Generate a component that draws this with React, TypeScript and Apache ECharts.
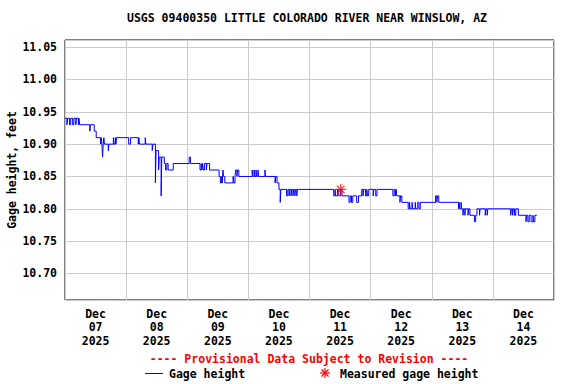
import React, { useEffect, useRef } from 'react';
import * as echarts from 'echarts';

const chartTitle = 'USGS 09400350 LITTLE COLORADO RIVER NEAR WINSLOW, AZ';
const yAxisTitle = 'Gage height, feet';
const provisionalNote = '---- Provisional Data Subject to Revision ----';
const seriesNames = ['Gage height', 'Measured gage height'];
const dayLabels = [
  'Dec\n07\n2025', 'Dec\n08\n2025', 'Dec\n09\n2025', 'Dec\n10\n2025',
  'Dec\n11\n2025', 'Dec\n12\n2025', 'Dec\n13\n2025', 'Dec\n14\n2025',
];
// hours since 2025-12-07 00:00 at which the gage height changes
const hours = [
  0, 0.75, 1, 1.75, 2.25, 3, 3.5, 4.25, 4.5, 5.25, 5.5, 5.75, 9.75, 10, 11.5, 12.25,
  14, 14.25, 14.5, 14.75, 15, 15.25, 15.5, 17, 17.25, 19, 19.25, 19.75, 20, 20.25,
  25, 25.75, 28.75, 29, 29.25, 31.5, 31.75, 34.25, 34.5, 35.5, 35.75, 36.75, 37,
  37.75, 38, 39, 39.5, 40, 40.5, 42.5, 48.75, 49.25, 53, 53.5, 53.75, 54, 54.25,
  54.75, 55.5, 55.75, 56.75, 60.5, 61, 61.5, 61.75, 62, 62.25, 62.75, 66, 66.25,
  66.75, 67, 67.5, 67.75, 68.25, 73.5, 73.75, 74.25, 74.5, 75, 75.25, 75.75, 76,
  78.5, 78.75, 82.5, 82.75, 83.25, 84, 84.5, 84.75, 87, 87.5, 88, 88.25, 88.75, 89,
  89.5, 89.75, 90.25, 90.5, 91, 91.25, 105.5, 106, 106.25, 107, 107.5, 108.25,
  108.75, 111.5, 112, 112.5, 113, 114.5, 115.25, 116.5, 117, 117.25, 118, 118.5,
  118.75, 119.25, 121, 121.25, 122, 122.5, 128.75, 129.25, 129.75, 130, 130.25,
  131.5, 131.75, 132.25, 134.75, 135.25, 135.5, 136.25, 136.5, 137.5, 137.75,
  138.5, 139, 139.5, 145.5, 146, 146.25, 146.75, 154.5, 154.75, 155, 155.5, 155.75,
  156.25, 156.5, 157, 157.25, 158.25, 158.5, 159, 160.75, 161.25, 161.75, 162.75,
  163, 165, 165.25, 165.75, 166, 175, 175.25, 175.75, 176, 176.5, 177, 178, 181,
  181.25, 181.75, 182.25, 183, 183.75, 184, 184.5, 185.25,
];
const heights = [
  10.94, 10.93, 10.94, 10.93, 10.94, 10.93, 10.94, 10.93, 10.94, 10.93, 10.94, 10.93, 10.92, 10.93, 10.92, 10.91,
  10.90, 10.91, 10.90, 10.88, 10.90, 10.91, 10.90, 10.89, 10.90, 10.91, 10.90, 10.91, 10.90, 10.91,
  10.90, 10.91, 10.90, 10.91, 10.90, 10.91, 10.90, 10.89, 10.90, 10.84, 10.89, 10.86, 10.88,
  10.82, 10.88, 10.87, 10.86, 10.87, 10.86, 10.87, 10.88, 10.87, 10.86, 10.87, 10.86, 10.87, 10.86,
  10.87, 10.86, 10.87, 10.86, 10.85, 10.84, 10.85, 10.84, 10.86, 10.85, 10.84, 10.85, 10.84,
  10.85, 10.86, 10.85, 10.86, 10.85, 10.86, 10.85, 10.86, 10.85, 10.86, 10.85, 10.86, 10.85,
  10.86, 10.85, 10.84, 10.85, 10.84, 10.83, 10.81, 10.83, 10.82, 10.83, 10.82, 10.83, 10.82, 10.83,
  10.82, 10.83, 10.82, 10.83, 10.82, 10.83, 10.82, 10.83, 10.82, 10.83, 10.82, 10.83,
  10.82, 10.81, 10.82, 10.81, 10.82, 10.81, 10.82, 10.83, 10.82, 10.83, 10.82, 10.83,
  10.82, 10.83, 10.82, 10.83, 10.82, 10.83, 10.82, 10.83, 10.82, 10.83, 10.82,
  10.81, 10.82, 10.81, 10.80, 10.81, 10.80, 10.81, 10.80, 10.81, 10.80,
  10.81, 10.80, 10.81, 10.82, 10.81, 10.82, 10.81, 10.80, 10.81, 10.80, 10.81, 10.80,
  10.79, 10.80, 10.79, 10.80, 10.79, 10.80, 10.79, 10.78, 10.79, 10.80, 10.79,
  10.80, 10.79, 10.80, 10.79, 10.80, 10.79, 10.80, 10.79, 10.80, 10.79, 10.80, 10.79, 10.78,
  10.79, 10.78, 10.79, 10.78, 10.79, 10.78, 10.79, 10.79,
];
const measuredHours = [108.25];
const measuredHeights = [10.83];

const FONT = '"DejaVu Sans Mono", monospace';
const ASTERISK = 'path://M5,0L5,10M0,5L10,5M1.5,1.5L8.5,8.5M1.5,8.5L8.5,1.5';
const BLUE = '#0000ff';
const RED = '#ff0000';

export default function App() {
  const ref = useRef<HTMLDivElement>(null);
  useEffect(() => {
    if (!ref.current) return;
    const chart = echarts.init(ref.current, undefined, { renderer: 'svg' });
    const base = new Date(2025, 11, 7, 0, 0, 0).getTime();
    const H = 3600 * 1000;
    const lineData = hours.map((h, i) => [base + h * H, heights[i]]);
    const measData = measuredHours.map((h, i) => [base + h * H, measuredHeights[i]]);
    const textBase = { fontFamily: FONT, fontWeight: 'bold' as const, fontSize: 11.5, color: '#000' };
    const font = `bold 11.5px ${FONT}`;
    const star = (cx: number, cy: number) => ({
      type: 'group',
      x: cx,
      y: cy,
      children: [
        [0, -5, 0, 5], [-5, 0, 5, 0], [-3.5, -3.5, 3.5, 3.5], [-3.5, 3.5, 3.5, -3.5],
      ].map(([x1, y1, x2, y2]) => ({
        type: 'line',
        shape: { x1, y1, x2, y2 },
        style: { stroke: RED, lineWidth: 1.2 },
      })),
    });
    chart.setOption({
      animation: false,
      backgroundColor: '#fff',
      title: {
        text: chartTitle,
        left: 127,
        top: 12,
        padding: 0,
        textStyle: { ...textBase },
      },
      grid: {
        left: 65, right: 22, top: 40, bottom: 84,
        containLabel: false,
        outerBoundsMode: 'none',
        show: true, borderColor: '#000', borderWidth: 1, backgroundColor: 'transparent',
      },
      xAxis: [
        {
          type: 'time',
          min: base,
          max: base + 8 * 24 * H,
          show: false,
        },
        {
          type: 'category',
          data: dayLabels,
          boundaryGap: true,
          position: 'bottom',
          axisLine: { show: false },
          axisTick: { show: false },
          axisLabel: { ...textBase, margin: 7, lineHeight: 13.5 },
          splitLine: { show: true, lineStyle: { color: '#cccccc', width: 1 } },
        },
      ],
      yAxis: {
        type: 'value',
        min: 10.659,
        max: 11.061,
        splitNumber: 8,
        minInterval: 0.05,
        maxInterval: 0.05,
        name: yAxisTitle,
        nameLocation: 'middle',
        nameGap: 47,
        nameMoveOverlap: false,
        nameTextStyle: { ...textBase },
        axisLine: { show: false },
        axisTick: { show: false },
        axisLabel: {
          ...textBase,
          margin: 8,
          formatter: (v: number) =>
            Math.abs(Math.round(v * 20) - v * 20) < 1e-6 ? v.toFixed(2) : '',
        },
        splitLine: { show: true, lineStyle: { color: '#cccccc', width: 1 } },
      },
      graphic: [
        {
          type: 'text',
          x: 309,
          y: 359,
          style: { text: provisionalNote, fill: RED, font, align: 'center', verticalAlign: 'middle' },
        },
        {
          type: 'line',
          shape: { x1: 145, y1: 373.5, x2: 163, y2: 373.5 },
          style: { stroke: BLUE, lineWidth: 1 },
        },
        {
          type: 'text',
          x: 169,
          y: 374,
          style: { text: seriesNames[0], fill: '#000', font, align: 'left', verticalAlign: 'middle' },
        },
        star(325, 373),
        {
          type: 'text',
          x: 340,
          y: 374,
          style: { text: seriesNames[1], fill: '#000', font, align: 'left', verticalAlign: 'middle' },
        },
      ],
      series: [
        {
          name: seriesNames[0],
          type: 'line',
          xAxisIndex: 0,
          data: lineData,
          step: 'end',
          symbol: 'none',
          showSymbol: false,
          lineStyle: { color: BLUE, width: 1 },
          itemStyle: { color: BLUE },
        },
        {
          name: seriesNames[1],
          type: 'scatter',
          xAxisIndex: 0,
          data: measData,
          symbol: ASTERISK,
          symbolSize: 11,
          symbolKeepAspect: true,
          z: 5,
          itemStyle: { color: RED, borderColor: RED, borderWidth: 1.2 },
        },
      ],
    });
    return () => chart.dispose();
  }, []);
  return (
    <div
      ref={ref}
      style={{ position: 'fixed', left: 0, top: 0, width: 576, height: 384, background: '#fff' }}
    />
  );
}
